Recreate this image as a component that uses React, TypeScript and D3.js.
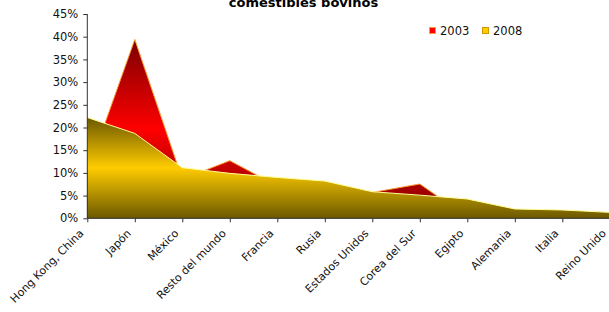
import React, { useRef, useEffect } from "react";
import * as d3 from "d3";

// share of imports (%)
const categories = [
  "Hong Kong, China", "Japón", "México", "Resto del mundo", "Francia", "Rusia",
  "Estados Unidos", "Corea del Sur", "Egipto", "Alemania", "Italia", "Reino Unido",
];
const values2003 = [10.0, 39.4, 8.6, 12.7, 7.1, 6.5, 5.7, 7.55, 0.3, 1.5, 1.2, 0.8];
const values2008 = [22.2, 18.7, 11.15, 9.9, 9.0, 8.2, 5.85, 5.1, 4.25, 2.05, 1.83, 1.3];
const yTicks = [0, 5, 10, 15, 20, 25, 30, 35, 40, 45];
const seriesNames = ["2003", "2008"];
const titleLine = "comestibles bovinos";

const App = () => {
  const svgRef = useRef<SVGSVGElement>(null);

  useEffect(() => {
    const width = 609;
    const height = 312;
    const font = "Tahoma, 'DejaVu Sans', sans-serif";

    const svg = d3.select(svgRef.current)
      .attr("width", width)
      .attr("height", height);
    svg.selectAll("*").remove();

    const x = d3.scalePoint<string>()
      .domain(categories)
      .range([87.3, 609.8]);
    const y = d3.scaleLinear()
      .domain([0, 45])
      .range([218.3, 14]);

    const defs = svg.append("defs");
    function grad(id: string, edge: string, mid: string) {
      const g = defs.append("linearGradient")
        .attr("id", id)
        .attr("x1", 0).attr("y1", 0).attr("x2", 0).attr("y2", 1);
      g.append("stop").attr("offset", 0).attr("stop-color", edge);
      g.append("stop").attr("offset", 0.5).attr("stop-color", mid);
      g.append("stop").attr("offset", 1).attr("stop-color", edge);
    }
    grad("red", "#7a0000", "#ff0000");
    grad("yel", "#6b5800", "#ffcc00");

    const area = d3.area<number>()
      .x((d, i) => x(categories[i]) as number)
      .y0(y(0))
      .y1(d => y(d));
    const line = d3.line<number>()
      .x((d, i) => x(categories[i]) as number)
      .y(d => y(d));

    // 2003 behind, 2008 in front
    svg.append("path").attr("d", area(values2003)).attr("fill", "url(#red)");
    svg.append("path").attr("d", line(values2003))
      .attr("fill", "none").attr("stroke", "#ff9933").attr("stroke-width", 1);
    svg.append("path").attr("d", area(values2008)).attr("fill", "url(#yel)");
    svg.append("path").attr("d", line(values2008))
      .attr("fill", "none").attr("stroke", "#ffff99").attr("stroke-width", 1);

    // y axis
    const yAxis = d3.axisLeft(y)
      .tickValues(yTicks)
      .tickSize(4)
      .tickPadding(5)
      .tickFormat(d => d + "%");
    const gy = svg.append("g").attr("transform", "translate(87.3,0)").call(yAxis);
    gy.select(".domain").attr("stroke", "#333").attr("d", `M0,${y(45)}V${y(0)}`);
    gy.selectAll("line").attr("stroke", "#333");
    gy.selectAll("text")
      .attr("font-family", font)
      .attr("font-size", 11.5)
      .attr("fill", "#111");

    // x axis
    const xAxis = d3.axisBottom(x).tickSize(4).tickFormat(() => "");
    const gx = svg.append("g").attr("transform", `translate(0,${y(0)})`).call(xAxis);
    gx.select(".domain").attr("stroke", "#333").attr("d", `M87.3,0H${width}`);
    gx.selectAll("line").attr("stroke", "#333");

    svg.append("g")
      .selectAll("text")
      .data(categories)
      .enter()
      .append("text")
      .attr("transform", d => `translate(${(x(d) as number) - 3},234) rotate(-45)`)
      .attr("text-anchor", "end")
      .attr("font-family", font)
      .attr("font-size", 11)
      .attr("fill", "#111")
      .text(d => d);

    // title (its first line lies above the picture)
    svg.append("text")
      .attr("x", 303.5)
      .attr("y", 6.5)
      .attr("text-anchor", "middle")
      .attr("font-family", font)
      .attr("font-weight", "bold")
      .attr("font-size", 13)
      .attr("fill", "#000")
      .text(titleLine);

    // legend
    const legendX = [429, 482];
    const colors = [["#ff0000", "#ff9933"], ["#ffcc00", "#cc9900"]];
    seriesNames.forEach((name, i) => {
      svg.append("rect")
        .attr("x", legendX[i] + 0.5).attr("y", 27.5)
        .attr("width", 6).attr("height", 6)
        .attr("fill", colors[i][0])
        .attr("stroke", colors[i][1]);
      svg.append("text")
        .attr("x", legendX[i] + 11)
        .attr("y", 35)
        .attr("font-family", font)
        .attr("font-size", 11.5)
        .attr("fill", "#111")
        .text(name);
    });
  }, []);

  return (
    <svg ref={svgRef} style={{ position: "absolute", left: 0, top: 0 }}></svg>
  );
};

export default App;
